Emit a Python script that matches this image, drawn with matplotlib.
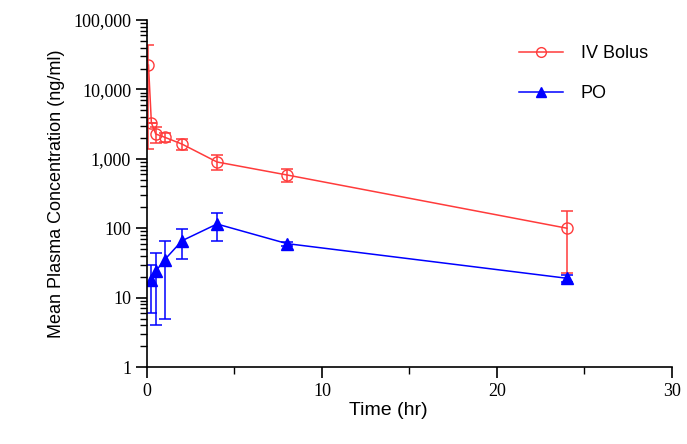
import numpy as np
import matplotlib
matplotlib.use("Agg")
import matplotlib.pyplot as plt
from matplotlib.lines import Line2D
from matplotlib.ticker import LogLocator, FuncFormatter, MultipleLocator

# mean plasma concentration (ng/ml) with SD
t_iv = [0.083, 0.25, 0.5, 1, 2, 4, 8, 24]
c_iv = [22400, 3300, 2280, 2050, 1630, 900, 585, 100]
sd_iv = [21000, 0, 600, 300, 300, 220, 125, 77]

t_po = [0.25, 0.5, 1, 2, 4, 8, 24]
c_po = [18, 24, 35, 66, 115, 60, 19]
sd_po = [12, 20, 30, 30, 50, 4, 2]

RED = "#FF3B3B"; BLUE = "#0000FF"

fig = plt.figure(figsize=(6.87, 4.44), dpi=100)
ax = fig.add_axes([0.214, 0.1734, 0.764, 0.7815])

ax.errorbar(t_iv, c_iv, yerr=sd_iv, color=RED, marker="o", ms=8, mfc="none", mec=RED,
            lw=1.1, elinewidth=1.1, capsize=4, capthick=1.1)
ax.errorbar(t_po, c_po, yerr=sd_po, color=BLUE, marker="^", ms=8, mfc=BLUE, mec=BLUE,
            lw=1.1, elinewidth=1.1, capsize=4, capthick=1.1)

ax.set_yscale("log")
ax.set_ylim(1, 100000)
ax.set_xlim(0, 30)
ax.yaxis.set_major_locator(LogLocator(base=10, numticks=10))
ax.yaxis.set_minor_locator(LogLocator(base=10, subs=np.arange(2, 10), numticks=20))
ax.yaxis.set_major_formatter(FuncFormatter(lambda v, p: f"{v:,.0f}"))
ax.xaxis.set_major_locator(MultipleLocator(10))
ax.xaxis.set_minor_locator(MultipleLocator(5))

for s in ["top", "right"]:
    ax.spines[s].set_visible(False)
for s in ["left", "bottom"]:
    ax.spines[s].set_linewidth(1.2)
ax.tick_params(which="major", length=8, width=1.2, direction="out", labelsize=13)
ax.tick_params(which="minor", length=5, width=1.0, direction="out")
for lab in ax.get_xticklabels() + ax.get_yticklabels():
    lab.set_fontfamily("Liberation Serif")

ax.set_xlabel("Time (hr)", fontsize=14, family="Liberation Sans", labelpad=4)
ax.xaxis.set_label_coords(0.46, -0.10)
ax.set_ylabel("Mean Plasma Concentration (ng/ml)", fontsize=13, family="Liberation Sans", labelpad=6)

handles = [Line2D([], [], color=RED, marker="o", ms=7, mfc="none", mec=RED, lw=1.1),
           Line2D([], [], color=BLUE, marker="^", ms=7, mfc=BLUE, mec=BLUE, lw=1.1)]
ax.legend(handles, ["IV Bolus", "PO"], loc="upper right", bbox_to_anchor=(0.985, 0.975),
          frameon=False, prop={"family": "Liberation Sans", "size": 13},
          handlelength=2.4, handletextpad=1.0, labelspacing=1.3)

fig.savefig("out.png", dpi=100)
